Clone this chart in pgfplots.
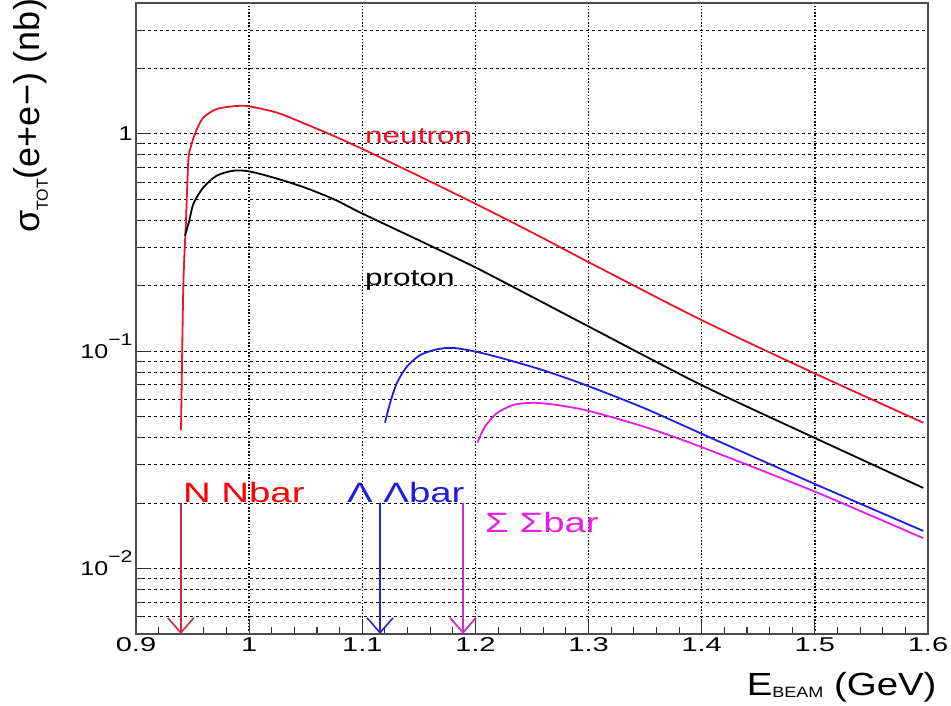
\documentclass[border=0pt]{standalone}
\usepackage{fontspec}
\setmainfont{Liberation Sans}
\newfontfamily\labf{Liberation Sans}[FakeStretch=1.37]
\newfontfamily\xtickf{Liberation Sans}[FakeStretch=1.45]
\newfontfamily\ytickf{Liberation Sans}[FakeStretch=1.25]
\newfontfamily\xlabf{Liberation Sans}[FakeStretch=1.2]
\usepackage{pgfplots}
\pgfplotsset{compat=1.18}
\usetikzlibrary{arrows.meta}

\definecolor{cneut}{RGB}{232,22,40}
\definecolor{clam}{RGB}{30,30,220}
\definecolor{csig}{RGB}{228,30,228}
\definecolor{anneut}{RGB}{205,40,60}
\definecolor{anlam}{RGB}{40,40,200}
\definecolor{ansig}{RGB}{205,45,205}

\newcommand{\ex}[1]{\smash{\raisebox{13bp}{\fontsize{17bp}{17bp}\selectfont #1}}}

\begin{document}
\begin{tikzpicture}
\useasboundingbox (0,0) rectangle (951bp,706bp);
\begin{axis}[
    at={(136bp,72bp)}, anchor=south west,
    scale only axis, width=792bp, height=631bp,
    ymode=log,
    xmin=0.9, xmax=1.6, ymin=0.005, ymax=4,
    xtick={0.9,1.0,1.1,1.2,1.3,1.4,1.5,1.6},
    xticklabels={0.9,1,1.1,1.2,1.3,1.4,1.5,1.6},
    minor x tick num=4,
    ytick={0.01,0.1,1},
    yticklabels={{10\ex{−2}},{10\ex{−1}},{1\hspace{11bp}}},
    minor ytick={0.006,0.007,0.008,0.009,0.02,0.03,0.04,0.05,0.06,0.07,0.08,0.09,
                 0.2,0.3,0.4,0.5,0.6,0.7,0.8,0.9,2,3},
    tick pos=left,
    tick align=inside,
    major tick length=14bp, minor tick length=7bp,
    xmajorgrids, ymajorgrids, yminorgrids,
    major x grid style={black, line width=1.3bp, dash pattern=on 1.5bp off 1.8bp},
    major y grid style={black, line width=1bp, dash pattern=on 3bp off 3bp},
    minor y grid style={black, line width=1bp, dash pattern=on 3bp off 3bp},
    axis line style={line width=1.6bp, black!70},
    tick style={line width=1.1bp, black!80},
    clip=false,
    /pgf/number format/assume math mode=true,
    xticklabel style={font=\xtickf\fontsize{20bp}{20bp}\selectfont},
    yticklabel style={font=\ytickf\fontsize{20bp}{20bp}\selectfont},
]

% neutron
\addplot[cneut, line width=1.8bp, smooth, tension=0.45] coordinates {
    (0.9398,0.0434) (0.9418,0.197) (0.9442,0.40) (0.9462,0.75)
    (0.9483,0.865) (0.9521,1.0) (0.9592,1.184) (0.9716,1.302)
    (0.9893,1.344) (1.0008,1.337) (1.0255,1.248) (1.05,1.109)
    (1.075,0.977) (1.1,0.853) (1.15,0.640) (1.2,0.477)
    (1.25,0.352) (1.3,0.257) (1.4,0.139) (1.5,0.079) (1.5958,0.0469)
};
% proton
\addplot[black, line width=1.8bp, smooth, tension=0.45] coordinates {
    (0.9433,0.340) (0.9471,0.399) (0.9507,0.476) (0.9595,0.567)
    (0.9713,0.642) (0.986,0.677) (1.0008,0.671) (1.0258,0.620)
    (1.05,0.564) (1.075,0.500) (1.1,0.430) (1.15,0.324)
    (1.2,0.243) (1.25,0.178) (1.3,0.130) (1.4,0.0698) (1.5,0.0399)
    (1.5958,0.0235)
};
% lambda
\addplot[clam, line width=1.8bp, smooth, tension=0.45] coordinates {
    (1.1201,0.0469) (1.1245,0.0576) (1.1304,0.0711) (1.1392,0.0847)
    (1.151,0.0959) (1.1658,0.102) (1.1804,0.1036) (1.2011,0.0993)
    (1.225,0.0924) (1.26,0.0817) (1.297,0.070) (1.35,0.0545)
    (1.4,0.0417) (1.5,0.0245) (1.5958,0.0149)
};
% sigma
\addplot[csig, line width=1.8bp, smooth, tension=0.45] coordinates {
    (1.2017,0.0380) (1.2085,0.0450) (1.2188,0.0518) (1.2335,0.0566)
    (1.2512,0.0579) (1.2718,0.0566) (1.2998,0.0532) (1.35,0.0448)
    (1.4,0.0362) (1.5,0.0226) (1.5958,0.0138)
};

% thresholds
\addplot[anneut, line width=1.6bp, -{Straight Barb[length=15bp,width=26bp]}]
    coordinates {(0.9396,0.0201) (0.9396,0.005)};
\addplot[anlam, line width=1.6bp, -{Straight Barb[length=15bp,width=26bp]}]
    coordinates {(1.1157,0.0201) (1.1157,0.005)};
\addplot[ansig, line width=1.8bp, -{Straight Barb[length=15bp,width=26bp]}]
    coordinates {(1.1890,0.0201) (1.1890,0.005)};

\node[anchor=base west, inner sep=0, text=cneut] at (axis cs:1.1024,0.9)
    {\labf\fontsize{23bp}{23bp}\selectfont neutron};
\node[anchor=base west, inner sep=0, text=black] at (axis cs:1.1024,0.201)
    {\labf\fontsize{23bp}{23bp}\selectfont proton};
\node[anchor=base west, inner sep=0, text=red] at (axis cs:0.9415,0.0201)
    {\labf\fontsize{28bp}{28bp}\selectfont N Nbar};
\node[anchor=base west, inner sep=0, text=clam] at (axis cs:1.0865,0.0201)
    {\labf\fontsize{28bp}{28bp}\selectfont Λ Λbar};
\node[anchor=base west, inner sep=0, text=csig] at (axis cs:1.2085,0.0146)
    {\labf\fontsize{28bp}{28bp}\selectfont Σ Σbar};

\node[rotate=90, anchor=center, inner sep=0] at (rel axis cs:-0.1326,0.821)
    {\fontsize{36bp}{36bp}\selectfont σ\raisebox{-8bp}{\fontsize{16bp}{16bp}\selectfont TOT}(e+e−) (nb)};
\node[anchor=base east, inner sep=0] at (rel axis cs:1.011,-0.0967)
    {\xlabf\fontsize{32bp}{32bp}\selectfont E\raisebox{-2bp}{\fontsize{15bp}{15bp}\selectfont BEAM} (GeV)};
\end{axis}
\end{tikzpicture}
\end{document}
